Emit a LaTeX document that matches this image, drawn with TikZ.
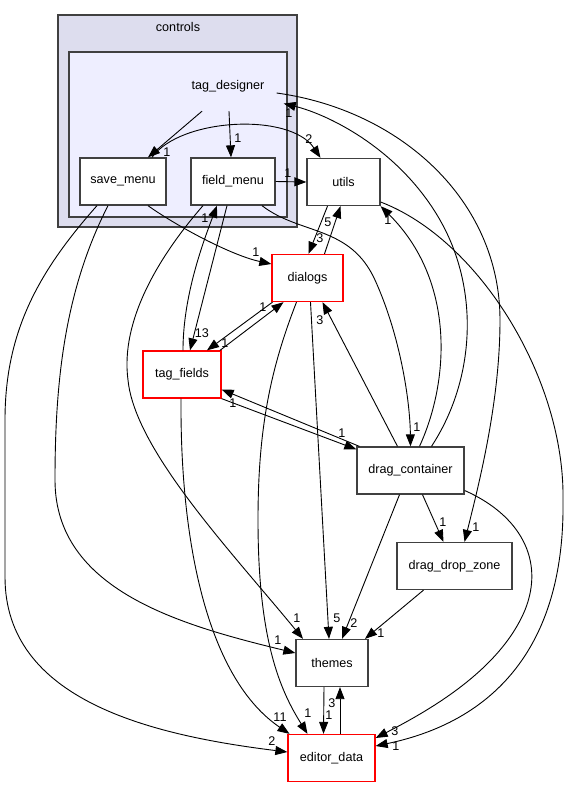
\documentclass[tikz,border=0pt]{standalone}
\usepackage{fontspec}
\setmainfont{Liberation Sans}
\usepackage{tikz}
\usetikzlibrary{arrows.meta,positioning,calc}

\begin{document}
\begin{tikzpicture}[x=1pt, y=-1pt,
    every node/.style={font=\fontsize{12.6}{14}\selectfont},
    dir/.style={draw=black!75, line width=1.3pt, fill=white, inner sep=0pt, minimum height=47pt},
    reddir/.style={dir, draw=red},
    dep/.style={line width=0.9pt, -{Triangle[length=12pt,width=9pt]}},
    lbl/.style={inner sep=0pt}]
    \useasboundingbox (0,0) rectangle (569,788);

    \draw[draw=black!75, line width=1.3pt, fill={rgb,255:red,221;green,221;blue,238}] (58,15) rectangle (297,227);
    \draw[draw=black!75, line width=1.3pt, fill={rgb,255:red,238;green,238;blue,255}] (69,52) rectangle (287,217);
    \node (controls) at (178,27) {controls};
    \node[inner sep=0pt, minimum width=115pt, minimum height=49pt] (tag_designer) at (228,86.5) {tag\_designer};

    \node[dir, minimum width=86pt] (save_menu) at (123,181.5) {save\_menu};
    \node[dir, minimum width=84pt] (field_menu) at (233,181.5) {field\_menu};
    \node[dir, minimum width=73pt] (utils) at (343.5,182) {utils};
    \node[reddir, minimum width=71pt] (dialogs) at (307.5,278) {dialogs};
    \node[reddir, minimum width=78pt] (tag_fields) at (182,374.5) {tag\_fields};
    \node[dir, minimum width=107pt] (drag_container) at (410.5,470.5) {drag\_container};
    \node[dir, minimum width=115pt] (drag_drop_zone) at (454.5,566) {drag\_drop\_zone};
    \node[dir, minimum width=72pt] (themes) at (332,663) {themes};
    \node[reddir, minimum width=87pt] (editor_data) at (331.5,758) {editor\_data};

    \draw[dep] ([xshift=-26pt]tag_designer.south) -- ([xshift=25pt]save_menu.north);
    \draw[dep] ([xshift=1pt]tag_designer.south) -- ([xshift=-2pt]field_menu.north);
    \draw[dep] ([xshift=29pt]save_menu.north) .. controls (180,118) and (290,112) .. ([xshift=-23pt]utils.north);
    \draw[dep] (field_menu.east) -- (utils.west);
    \draw[dep] ([xshift=-9pt,yshift=-6.5pt]tag_designer.east) .. controls (400,110) and (500,200) .. (500,320) .. controls (500,400) and (480,480) .. ([xshift=10pt]drag_drop_zone.north);
    \draw[dep] ([xshift=21pt]drag_container.north) .. controls (475,380) and (480,290) .. (440,220) .. controls (400,150) and (330,115) .. ([xshift=-2pt,yshift=-17pt]tag_designer.east);
    \draw[dep] ([xshift=9pt]drag_container.north) .. controls (450,380) and (455,280) .. (utils.south east);
    \draw[dep] ([yshift=-20pt]utils.east) .. controls (480,240) and (565,380) .. (563,500) .. controls (565,640) and (500,720) .. ([yshift=12pt]editor_data.east);
    \draw[dep] ([yshift=-20pt]drag_container.east) .. controls (520,515) and (545,560) .. (525,610) .. controls (500,670) and (430,710) .. ([yshift=20pt]editor_data.east);
    \draw[dep] ([xshift=25pt]save_menu.south) .. controls (175,225) and (230,255) .. ([yshift=14pt]dialogs.west);
    \draw[dep] ([xshift=-30pt]field_menu.south) .. controls (160,255) and (120,320) .. (128,380) .. controls (135,450) and (230,550) .. ([xshift=-29pt]themes.north);
    \draw[dep] ([xshift=-15pt]save_menu.south) .. controls (65,290) and (55,380) .. (55,480) .. controls (55,590) and (180,625) .. ([yshift=10pt]themes.west);
    \draw[dep] ([xshift=-26pt]save_menu.south) .. controls (40,270) and (5,330) .. (5,420) -- (5,577) .. controls (5,700) and (150,735) .. ([yshift=6pt]editor_data.west);
    \draw[dep] ([xshift=-1pt]tag_fields.south) .. controls (180,550) and (210,680) .. ([xshift=-42pt]editor_data.north);
    \draw[dep] ([xshift=-11pt]dialogs.south) .. controls (270,370) and (258,430) .. (258,520) .. controls (258,640) and (280,690) .. ([xshift=-24pt]editor_data.north);
    \draw[dep] ([xshift=1pt]tag_fields.north) .. controls (183,300) and (200,250) .. ([xshift=-16pt]field_menu.south);
    \draw[dep] ([xshift=-6pt]field_menu.south) -- ([xshift=8pt]tag_fields.north);
    \draw[dep] ([xshift=3pt]dialogs.south) -- ([xshift=-3pt]themes.north);
    \draw[dep] ([xshift=-11pt]drag_container.south) -- ([xshift=10pt]themes.north);
    \draw[dep] ([xshift=-31pt]drag_drop_zone.south) -- ([xshift=33pt]themes.north);
    \draw[dep] ([xshift=-8pt]themes.south) -- ([xshift=-8pt]editor_data.north);
    \draw[dep] ([xshift=8.5pt]editor_data.north) -- ([xshift=8pt]themes.south);
    \draw[dep] ([xshift=-16pt]utils.south) -- ([xshift=1pt]dialogs.north);
    \draw[dep] ([xshift=17pt]dialogs.north) -- ([xshift=-3pt]utils.south);
    \draw[dep] ([xshift=-35pt]dialogs.south) -- ([xshift=25pt]tag_fields.north);
    \draw[dep] ([xshift=38pt]tag_fields.north) -- ([xshift=-24pt]dialogs.south);
    \draw[dep] ([xshift=3pt]drag_container.north west) -- ([yshift=-15pt]tag_fields.east);
    \draw[dep] (tag_fields.south east) -- ([yshift=-3pt]drag_container.north west);
    \draw[dep] ([xshift=-13pt]drag_container.north) -- ([xshift=15pt]dialogs.south);
    \draw[dep] ([xshift=29pt]field_menu.south) .. controls (300,235) and (350,225) .. (375,280) .. controls (400,335) and (410,400) .. (drag_container.north);
    \draw[dep] ([xshift=12pt]drag_container.south) -- ([xshift=-11pt]drag_drop_zone.north);

    \node[lbl] (l_td_sm) at (167,152) {1};
    \node[lbl] (l_td_fm) at (238,138) {1};
    \node[lbl] (l_sm_ut) at (309,139) {2};
    \node[lbl] (l_fm_ut) at (288,173) {1};
    \node[lbl] (l_dc_td) at (289,113) {1};
    \node[lbl] (l_dc_ut) at (388,220) {1};
    \node[lbl] (l_sm_dl) at (256,252) {1};
    \node[lbl] (l_fm_tf) at (202,333) {13};
    \node[lbl] (l_tf_fm) at (205,218) {1};
    \node[lbl] (l_dl_tf) at (225,343) {1};
    \node[lbl] (l_tf_dl) at (263,307) {1};
    \node[lbl] (l_ut_dl) at (320,238) {3};
    \node[lbl] (l_dl_ut) at (328,222) {5};
    \node[lbl] (l_dc_dl) at (320,320) {3};
    \node[lbl] (l_fm_dc) at (417,427) {1};
    \node[lbl] (l_dc_tf) at (233,403) {1};
    \node[lbl] (l_tf_dc) at (342,433) {1};
    \node[lbl] (l_dc_dz) at (443,522) {1};
    \node[lbl] (l_td_dz) at (476,527) {1};
    \node[lbl] (l_dl_th) at (337,618) {5};
    \node[lbl] (l_dc_th) at (354,623) {2};
    \node[lbl] (l_dz_th) at (381,633) {1};
    \node[lbl] (l_fm_th) at (297,618) {1};
    \node[lbl] (l_sm_th) at (278,640) {1};
    \node[lbl] (l_th_ed) at (329,715) {1};
    \node[lbl] (l_ed_th) at (332,703) {3};
    \node[lbl] (l_tf_ed) at (280,717) {11};
    \node[lbl] (l_dl_ed) at (308,713) {1};
    \node[lbl] (l_sm_ed) at (272,741) {2};
    \node[lbl] (l_dc_ed) at (395,731) {3};
    \node[lbl] (l_ut_ed) at (396,746) {1};
\end{tikzpicture}
\end{document}
